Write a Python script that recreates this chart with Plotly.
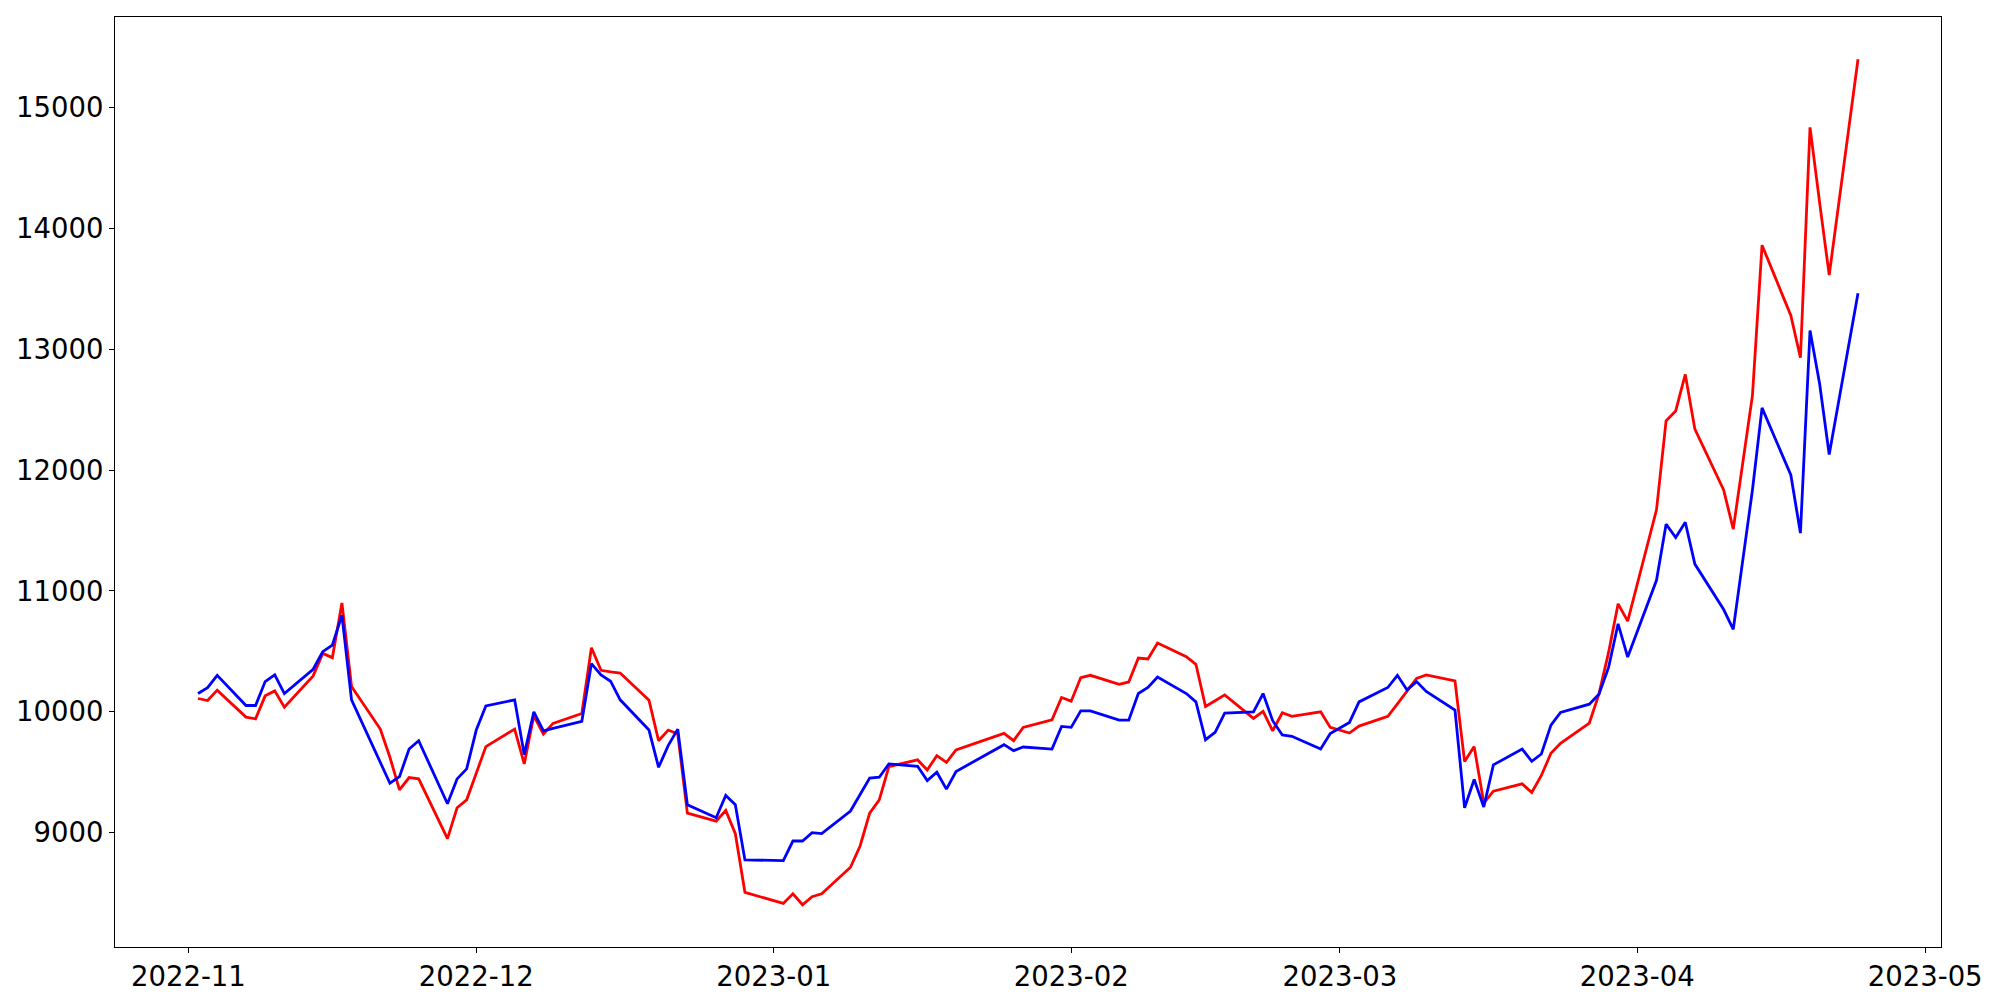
import plotly.graph_objects as go
import pandas as pd

dates = [
    "2022-11-02", "2022-11-03", "2022-11-04", "2022-11-07", "2022-11-08", "2022-11-09", "2022-11-10", "2022-11-11",
    "2022-11-14", "2022-11-15", "2022-11-16", "2022-11-17", "2022-11-18", "2022-11-21", "2022-11-22", "2022-11-23",
    "2022-11-24", "2022-11-25", "2022-11-28", "2022-11-29", "2022-11-30",
    "2022-12-01", "2022-12-02", "2022-12-05", "2022-12-06", "2022-12-07", "2022-12-08", "2022-12-09", "2022-12-12",
    "2022-12-13", "2022-12-14", "2022-12-15", "2022-12-16", "2022-12-19", "2022-12-20", "2022-12-21", "2022-12-22",
    "2022-12-23", "2022-12-26", "2022-12-27", "2022-12-28", "2022-12-29",
    "2023-01-02", "2023-01-03", "2023-01-04", "2023-01-05", "2023-01-06", "2023-01-09", "2023-01-10", "2023-01-11",
    "2023-01-12", "2023-01-13", "2023-01-16", "2023-01-17", "2023-01-18", "2023-01-19", "2023-01-20", "2023-01-25",
    "2023-01-26", "2023-01-27", "2023-01-30", "2023-01-31",
    "2023-02-01", "2023-02-02", "2023-02-03", "2023-02-06", "2023-02-07", "2023-02-08", "2023-02-09", "2023-02-10",
    "2023-02-13", "2023-02-14", "2023-02-15", "2023-02-16", "2023-02-17", "2023-02-20", "2023-02-21", "2023-02-22",
    "2023-02-23", "2023-02-24", "2023-02-27", "2023-02-28",
    "2023-03-02", "2023-03-03", "2023-03-06", "2023-03-07", "2023-03-08", "2023-03-09", "2023-03-10", "2023-03-13",
    "2023-03-14", "2023-03-15", "2023-03-16", "2023-03-17", "2023-03-20", "2023-03-21", "2023-03-22", "2023-03-23",
    "2023-03-24", "2023-03-27", "2023-03-28", "2023-03-29", "2023-03-30", "2023-03-31",
    "2023-04-03", "2023-04-04", "2023-04-05", "2023-04-06", "2023-04-07", "2023-04-10", "2023-04-11", "2023-04-12",
    "2023-04-13", "2023-04-14", "2023-04-17", "2023-04-18", "2023-04-19", "2023-04-20", "2023-04-21", "2023-04-24",
]

red_values = [
    10110, 10093, 10179, 9956, 9942, 10132, 10173, 10038,
    10297, 10483, 10448, 10901, 10209, 9857, 9624, 9354,
    9456, 9445, 8951, 9206, 9272,
    9492, 9712, 9857, 9569, 9967, 9816, 9904, 9986,
    10530, 10343, 10330, 10321, 10096, 9761, 9849, 9816,
    9162, 9096, 9184, 8992, 8506,
    8415, 8494, 8404, 8470, 8494, 8714, 8890, 9162,
    9272, 9547, 9602, 9519, 9637, 9582, 9684, 9821,
    9761, 9871, 9934, 10118,
    10088, 10283, 10302, 10228, 10247, 10445, 10437, 10569,
    10456, 10393, 10044, 10091, 10140, 9945, 10003, 9843,
    9992, 9962, 10000, 9871,
    9824, 9882, 9962, 10066, 10173, 10277, 10305, 10255,
    9588, 9712, 9245, 9343, 9404, 9332, 9473, 9657,
    9739, 9907, 10146, 10489, 10893, 10750,
    11671, 12407, 12489, 12791, 12338, 11835, 11511, 12060,
    12618, 13860, 13278, 12929, 14835, 14212, 13613, 15398,
]

blue_values = [
    10151, 10200, 10302, 10052, 10052, 10250, 10305, 10151,
    10352, 10497, 10552, 10799, 10099, 9577, 9409, 9464,
    9692, 9761, 9239, 9445, 9528,
    9849, 10049, 10099, 9646, 10000, 9843, 9863, 9920,
    10398, 10305, 10253, 10099, 9849, 9541, 9720, 9857,
    9231, 9124, 9308, 9231, 8775,
    8769, 8931, 8931, 9000, 8992, 9179, 9316, 9451,
    9459, 9569, 9549, 9431, 9500, 9360, 9506, 9728,
    9679, 9709, 9692, 9879,
    9871, 10008, 10008, 9931, 9931, 10151, 10201, 10288,
    10151, 10082, 9769, 9830, 9989, 10000, 10151, 9926,
    9808, 9797, 9692, 9821,
    9912, 10082, 10201, 10302, 10181, 10250, 10168, 10014,
    9206, 9440, 9212, 9561, 9692, 9590, 9651, 9890,
    9994, 10063, 10146, 10365, 10728, 10453,
    11088, 11552, 11442, 11568, 11222, 10846, 10682, 11258,
    11835, 12514, 11959, 11478, 13154, 12714, 12129, 13462,
]

x = pd.to_datetime(dates)

fig = go.Figure()
fig.add_trace(go.Scatter(x=x, y=red_values, mode="lines",
                         line=dict(color="#ff0000", width=2.8), showlegend=False))
fig.add_trace(go.Scatter(x=x, y=blue_values, mode="lines",
                         line=dict(color="#0000ff", width=2.8), showlegend=False))

# matplotlib-like 5% auto margins
xmin, xmax = x.min(), x.max()
xpad = (xmax - xmin) * 0.05
allv = red_values + blue_values
vmin, vmax = min(allv), max(allv)
ypad = (vmax - vmin) * 0.05

tick_font = dict(family="DejaVu Sans", size=27.5, color="black")

# the page body adds an 8px offset, so the figure is sized to end at the window edge
fig.update_layout(
    width=1992, height=992,
    margin=dict(l=105, r=59, t=8, b=53),
    plot_bgcolor="white", paper_bgcolor="white",
    xaxis=dict(
        type="date",
        range=[xmin - xpad, xmax + xpad],
        dtick="M1", tick0="2022-11-01", tickformat="%Y-%m",
        showgrid=False, zeroline=False,
        showline=True, mirror=True, linecolor="black", linewidth=1.1,
        ticks="outside", ticklen=5, tickwidth=1.1, tickcolor="black",
        tickfont=tick_font,
    ),
    yaxis=dict(
        range=[vmin - ypad, vmax + ypad],
        dtick=1000, tick0=0, tickformat="d",
        showgrid=False, zeroline=False,
        showline=True, mirror=True, linecolor="black", linewidth=1.1,
        ticks="outside", ticklen=5, tickwidth=1.1, tickcolor="black",
        tickfont=tick_font,
    ),
)

fig.write_html("out.html")
